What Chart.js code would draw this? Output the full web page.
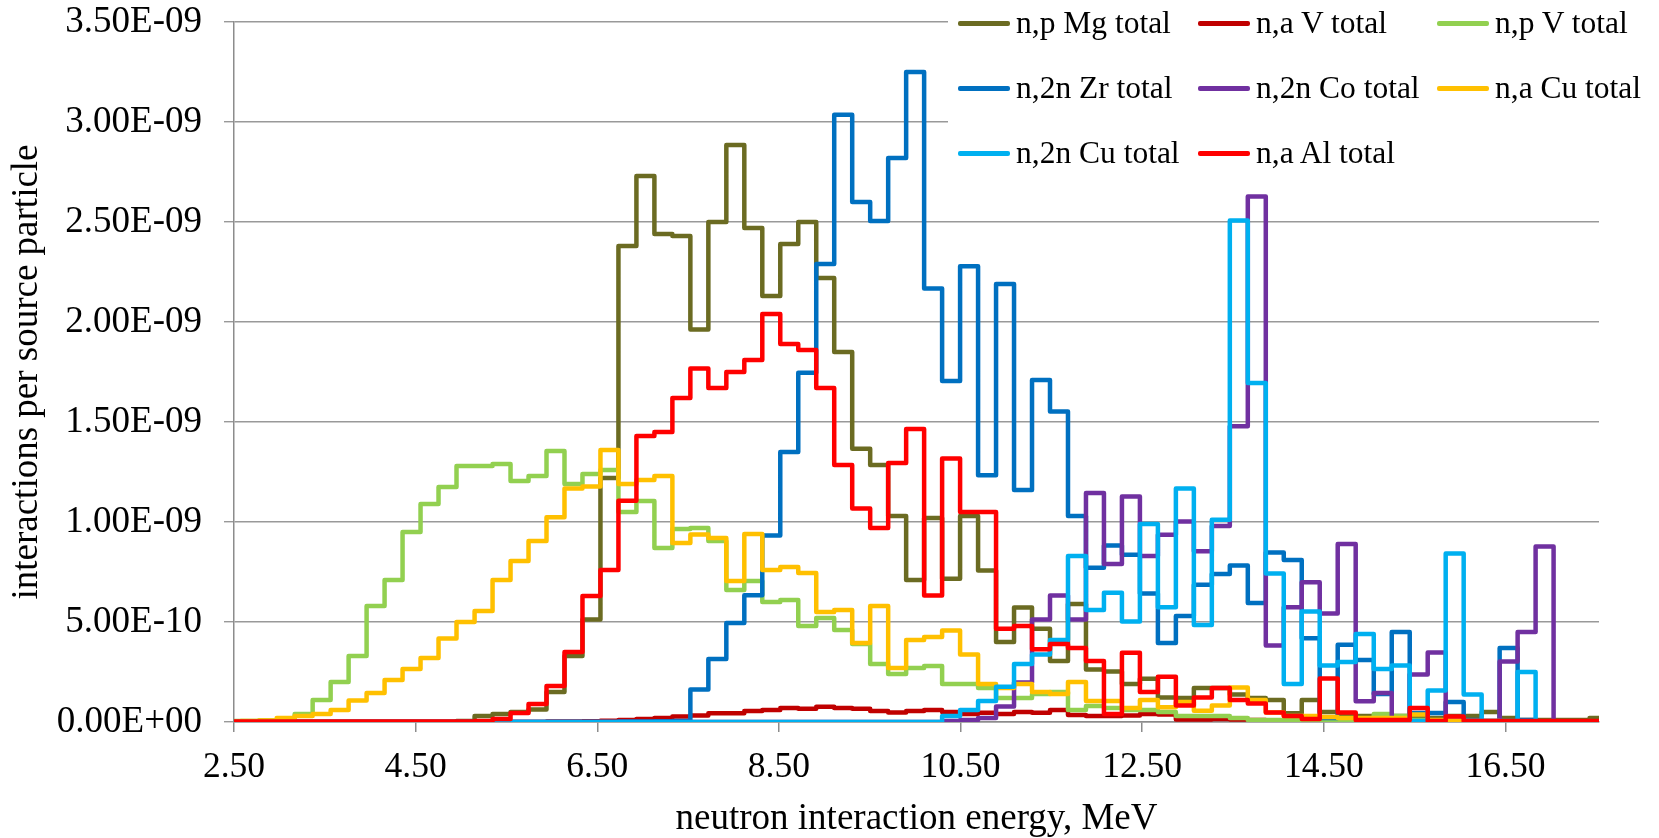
<!DOCTYPE html>
<html>
<head>
<meta charset="utf-8">
<title>neutron interactions per source particle</title>
<script src="https://cdn.jsdelivr.net/npm/chart.js@4.4.1/dist/chart.umd.min.js"></script>
<style>
  body { margin: 0; background: #fff; }
  #wrap { position: relative; width: 1659px; height: 838px; }
  #legend { position: absolute; left: 948px; top: 0; width: 652px; height: 180px; background: #fff; }
  .item { position: absolute; display: flex; align-items: center; height: 34px;
          font-family: 'Liberation Serif', 'Times New Roman', serif; font-size: 31.5px; color: #000; white-space: nowrap; }
  .item i { display: inline-block; width: 52px; height: 5px; border-radius: 2px; margin-right: 6px; }
</style>
</head>
<body>
<div id="wrap">
  <canvas id="chart" width="1659" height="838"></canvas>
  <div id="legend"></div>
</div>
<script>
// bin edges, MeV (lower edge of each bin, plus the upper edge of the last one)
var energy = [2.376, 2.574, 2.772, 2.970, 3.168, 3.366, 3.564, 3.762, 3.960, 4.158,
    4.356, 4.554, 4.752, 4.950, 5.149, 5.347, 5.545, 5.743, 5.941, 6.139,
    6.337, 6.535, 6.733, 6.931, 7.129, 7.327, 7.525, 7.723, 7.921, 8.119,
    8.317, 8.515, 8.713, 8.911, 9.109, 9.307, 9.505, 9.703, 9.901, 10.099,
    10.297, 10.495, 10.693, 10.891, 11.089, 11.287, 11.485, 11.683, 11.881, 12.079,
    12.277, 12.475, 12.673, 12.871, 13.069, 13.267, 13.465, 13.663, 13.861, 14.059,
    14.257, 14.455, 14.653, 14.851, 15.050, 15.248, 15.446, 15.644, 15.842, 16.040,
    16.238, 16.436, 16.634, 16.832, 17.030, 17.228, 17.426, 17.624];

// values per bin, in units of 1E-09
var npMg = [0, 0, 0, 0, 0, 0, 0, 0, 0, 0,
    0, 0, 0, 0.005, 0.03, 0.04, 0.05, 0.063, 0.15, 0.33,
    0.513, 1.22, 2.38, 2.73, 2.44, 2.43, 1.963, 2.50, 2.885, 2.47,
    2.13, 2.39, 2.50, 2.22, 1.85, 1.366, 1.285, 1.03, 0.71, 1.02,
    0.716, 1.03, 0.757, 0.40, 0.573, 0.466, 0.305, 0.59, 0.263, 0.253,
    0.19, 0.216, 0.122, 0.12, 0.17, 0.17, 0.137, 0.12, 0.11, 0.044,
    0.11, 0.05, 0.04, 0.03, 0.03, 0.03, 0.02, 0.02, 0.03, 0.03,
    0.05, 0.02, 0.01, 0.01, 0.01, 0.01, 0.02];
var naV = [0, 0, 0, 0, 0, 0, 0, 0, 0, 0,
    0, 0, 0, 0, 0, 0, 0, 0, 0.002, 0.003,
    0.004, 0.006, 0.01, 0.015, 0.02, 0.028, 0.033, 0.044, 0.044, 0.055,
    0.06, 0.07, 0.066, 0.076, 0.07, 0.066, 0.055, 0.048, 0.055, 0.06,
    0.05, 0.04, 0.046, 0.04, 0.05, 0.046, 0.06, 0.035, 0.03, 0.03,
    0.032, 0.04, 0.038, 0.012, 0.012, 0.015, 0.012, 0.01, 0.008, 0.008,
    0.006, 0.005, 0.005, 0.004, 0.003, 0.002, 0.002, 0.001, 0.001, 0,
    0, 0, 0, 0, 0, 0, 0];
var npV = [0.005, 0.005, 0.008, 0.01, 0.04, 0.11, 0.20, 0.33, 0.58, 0.71,
    0.95, 1.09, 1.175, 1.28, 1.28, 1.29, 1.205, 1.23, 1.355, 1.19,
    1.24, 1.26, 1.05, 1.105, 0.87, 0.965, 0.97, 0.905, 0.66, 0.705,
    0.60, 0.61, 0.48, 0.52, 0.46, 0.39, 0.29, 0.24, 0.27, 0.28,
    0.19, 0.19, 0.17, 0.12, 0.12, 0.14, 0.15, 0.06, 0.08, 0.07,
    0.06, 0.06, 0.05, 0.03, 0.03, 0.03, 0.02, 0.01, 0.01, 0.01,
    0.01, 0.01, 0.01, 0.01, 0.04, 0.03, 0.01, 0.005, 0.005, 0,
    0, 0, 0, 0, 0, 0, 0];
var n2nZr = [0, 0, 0, 0, 0, 0, 0, 0, 0, 0,
    0, 0, 0, 0, 0, 0, 0, 0, 0, 0,
    0, 0, 0.003, 0.003, 0.004, 0.005, 0.163, 0.315, 0.495, 0.634,
    0.933, 1.35, 1.746, 2.29, 3.036, 2.60, 2.505, 2.82, 3.25, 2.168,
    1.705, 2.279, 1.234, 2.19, 1.16, 1.71, 1.552, 1.03, 0.771, 0.882,
    0.836, 0.642, 0.395, 0.53, 0.686, 0.74, 0.783, 0.595, 0.847, 0.81,
    0.419, 0.02, 0.386, 0.31, 0.14, 0.45, 0.045, 0.045, 0.10, 0.01,
    0, 0.37, 0.01, 0, 0, 0, 0];
var n2nCo = [0, 0, 0, 0, 0, 0, 0, 0, 0, 0,
    0, 0, 0, 0, 0, 0, 0, 0, 0, 0,
    0, 0, 0, 0, 0, 0, 0, 0, 0, 0,
    0, 0, 0, 0, 0, 0, 0, 0, 0, 0,
    0.005, 0.01, 0.02, 0.078, 0.198, 0.512, 0.633, 0.512, 1.145, 0.79,
    1.127, 0.83, 0.936, 1.003, 0.854, 0.98, 1.479, 2.628, 0.383, 0.574,
    0.699, 0.543, 0.89, 0.104, 0.145, 0.005, 0.237, 0.348, 0.005, 0.005,
    0.005, 0.303, 0.45, 0.878, 0, 0, 0];
var naCu = [0.003, 0.005, 0.008, 0.02, 0.03, 0.04, 0.06, 0.107, 0.145, 0.21,
    0.265, 0.32, 0.417, 0.50, 0.555, 0.71, 0.805, 0.905, 1.024, 1.167,
    1.177, 1.36, 1.19, 1.21, 1.23, 0.895, 0.937, 0.92, 0.705, 0.94,
    0.76, 0.775, 0.745, 0.55, 0.56, 0.395, 0.58, 0.27, 0.41, 0.425,
    0.457, 0.337, 0.19, 0.17, 0.19, 0.15, 0.14, 0.2, 0.105, 0.105,
    0.07, 0.11, 0.074, 0.10, 0.056, 0.083, 0.172, 0.11, 0.047, 0.03,
    0.03, 0.025, 0.02, 0.02, 0.02, 0.02, 0.037, 0.01, 0.005, 0.005,
    0.005, 0, 0, 0, 0, 0, 0];
var n2nCu = [0, 0, 0, 0, 0, 0, 0, 0, 0, 0,
    0, 0, 0, 0, 0, 0, 0, 0, 0, 0,
    0, 0, 0, 0, 0, 0, 0, 0, 0, 0,
    0, 0, 0, 0, 0, 0, 0, 0, 0, 0,
    0.03, 0.06, 0.105, 0.176, 0.29, 0.337, 0.41, 0.83, 0.56, 0.646,
    0.503, 0.99, 0.574, 1.167, 0.485, 1.011, 2.508, 1.695, 0.743, 0.19,
    0.552, 0.283, 0.30, 0.44, 0.265, 0.282, 0.005, 0.157, 0.842, 0.137,
    0.005, 0.005, 0.25, 0, 0, 0, 0];
var naAl = [0.002, 0.002, 0.002, 0.002, 0.002, 0.002, 0.002, 0.002, 0.002, 0.002,
    0.002, 0.002, 0.002, 0.002, 0.005, 0.015, 0.045, 0.09, 0.18, 0.35,
    0.63, 0.76, 1.106, 1.43, 1.45, 1.62, 1.768, 1.67, 1.75, 1.81,
    2.04, 1.89, 1.86, 1.67, 1.285, 1.067, 0.97, 1.295, 1.465, 0.633,
    1.317, 1.05, 1.05, 0.466, 0.48, 0.364, 0.39, 0.37, 0.305, 0.04,
    0.346, 0.15, 0.226, 0.083, 0.122, 0.17, 0.11, 0.092, 0.047, 0.03,
    0.015, 0.217, 0.047, 0.01, 0.01, 0.01, 0.07, 0.005, 0.028, 0.005,
    0.005, 0.005, 0.005, 0.005, 0.005, 0.005, 0.005];

var xTicks = [2.5, 4.5, 6.5, 8.5, 10.5, 12.5, 14.5, 16.5];
var yTicks = [0, 0.5, 1.0, 1.5, 2.0, 2.5, 3.0, 3.5]; // E-09

var series = [
    { label: 'n,p Mg total', values: npMg, color: '#6B6B22' },
    { label: 'n,a V total', values: naV, color: '#C00000' },
    { label: 'n,p V total', values: npV, color: '#92D050' },
    { label: 'n,2n Zr total', values: n2nZr, color: '#0070C0' },
    { label: 'n,2n Co total', values: n2nCo, color: '#7030A0' },
    { label: 'n,a Cu total', values: naCu, color: '#FFC000' },
    { label: 'n,2n Cu total', values: n2nCu, color: '#00B0F0' },
    { label: 'n,a Al total', values: naAl, color: '#FF0000' }
];

function steps(vals) {
    var pts = vals.map(function (v, i) { return { x: energy[i], y: v * 1e-9 }; });
    pts.push({ x: energy[vals.length], y: vals[vals.length - 1] * 1e-9 });
    return pts;
}

function fmtE(v) {
    if (v === 0) return '0.00E+00';
    var e = Math.floor(Math.log10(v));
    var m = v / Math.pow(10, e);
    if (m >= 9.995) { m /= 10; e += 1; }
    if (m < 1) { m *= 10; e -= 1; }
    return m.toFixed(2) + 'E' + (e < 0 ? '-' : '+') + String(Math.abs(e)).padStart(2, '0');
}

var serif = "'Liberation Serif', 'Times New Roman', serif";

var ctx = document.getElementById('chart').getContext('2d');
var chart = new Chart(ctx, {
    type: 'line',
    data: {
        datasets: series.map(function (s, i) {
            return {
                label: s.label,
                data: steps(s.values),
                borderColor: s.color,
                backgroundColor: s.color,
                borderWidth: 4.5,
                pointRadius: 0,
                stepped: true,
                borderJoinStyle: 'round',
                borderCapStyle: 'round',
                order: series.length - 1 - i
            };
        })
    },
    options: {
        responsive: false,
        animation: false,
        devicePixelRatio: 1,
        layout: { padding: { left: 0, top: 22, right: 60, bottom: 0 } },
        plugins: { legend: { display: false }, tooltip: { enabled: false } },
        scales: {
            x: {
                type: 'linear',
                min: 2.5,
                max: 17.53,
                afterBuildTicks: function (s) { s.ticks = xTicks.map(function (v) { return { value: v }; }); },
                afterFit: function (s) { s.height = 116; s.paddingLeft = 0; s.paddingRight = 0; },
                ticks: {
                    callback: function (v) { return v.toFixed(2); },
                    font: { family: serif, size: 35.5 },
                    color: '#000',
                    padding: 14,
                    maxRotation: 0,
                    autoSkip: false
                },
                grid: { drawOnChartArea: false, drawTicks: true, tickLength: 10, color: '#8c8c8c', lineWidth: 1.5 },
                border: { color: '#8c8c8c', width: 1.5 },
                title: {
                    display: true,
                    text: 'neutron interaction energy, MeV',
                    font: { family: serif, size: 37, lineHeight: 1 },
                    color: '#000',
                    padding: 0
                }
            },
            y: {
                min: 0,
                max: 3.5e-9,
                afterBuildTicks: function (s) { s.ticks = yTicks.map(function (v) { return { value: v * 1e-9 }; }); },
                afterFit: function (s) { s.width = 234; s.paddingTop = 0; s.paddingBottom = 0; },
                ticks: {
                    callback: fmtE,
                    font: { family: serif, size: 37 },
                    color: '#000',
                    padding: 22
                },
                grid: { color: '#999999', lineWidth: 1.4, tickLength: 10 },
                border: { color: '#8c8c8c', width: 1.5 },
                title: {
                    display: true,
                    text: 'interactions per source particle',
                    font: { family: serif, size: 37, lineHeight: 1 },
                    color: '#000',
                    padding: { top: 9, bottom: 0 }
                }
            }
        }
    }
});

// legend laid out as in the original: three columns, row by row
var legend = document.getElementById('legend');
var colX = [10, 250, 489];
var rowY = [23, 88, 153];
series.forEach(function (s, i) {
    var d = document.createElement('div');
    d.className = 'item';
    d.style.left = colX[i % 3] + 'px';
    d.style.top = (rowY[Math.floor(i / 3)] - 17) + 'px';
    var sw = document.createElement('i');
    sw.style.background = s.color;
    d.appendChild(sw);
    d.appendChild(document.createTextNode(s.label));
    legend.appendChild(d);
});
</script>
</body>
</html>
